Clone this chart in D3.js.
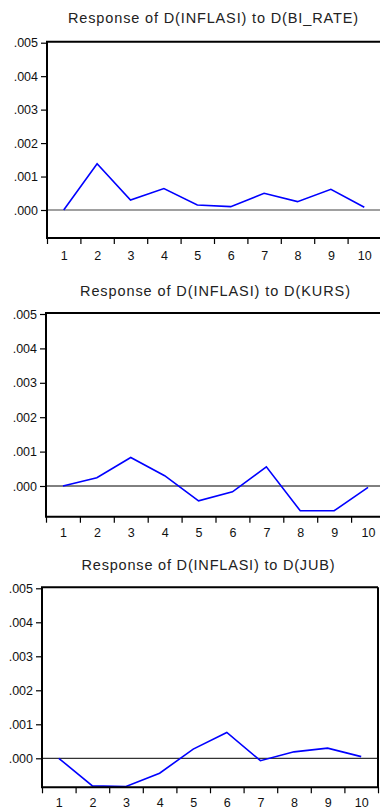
<!DOCTYPE html>
<html>
<head>
<meta charset="utf-8">
<script src="https://cdn.jsdelivr.net/npm/d3@7"></script>
<style>
  html, body { margin: 0; padding: 0; background: #fff; overflow: hidden; }
  svg { display: block; }
  text { font-family: Arial, "Liberation Sans", sans-serif; fill: #111; }
</style>
</head>
<body>
<div id="chart"></div>
<script>
// Impulse responses of D(INFLASI), periods 1..10
const periods = [1, 2, 3, 4, 5, 6, 7, 8, 9, 10];
const yTicks = [0, 0.001, 0.002, 0.003, 0.004, 0.005];
const titles = [
    "Response of D(INFLASI) to D(BI_RATE)",
    "Response of D(INFLASI) to D(KURS)",
    "Response of D(INFLASI) to D(JUB)"
];
const respBiRate = [0.0, 0.00138, 0.0003, 0.00064, 0.00015, 0.0001, 0.0005, 0.00025, 0.00062, 0.00008];
const respKurs = [0.0, 0.00024, 0.00083, 0.0003, -0.00043, -0.00017, 0.00056, -0.00072, -0.00072, -0.00004];
const respJub = [0.0, -0.00081, -0.00083, -0.00044, 0.00027, 0.00076, -0.00007, 0.00019, 0.0003, 0.00005];

const width = 380, height = 810;

// panel geometry (pixels)
const panels = [
    { values: respBiRate, title: titles[0], left: 47, right: 381, top: 42.7, zero: 210, bottom: 238,
      titleY: 23, titleX: 213, titleW: 290, zeroColor: "#808080", zeroW: 1.6, rightBorder: false, labelPad: 13 },
    { values: respKurs, title: titles[1], left: 46, right: 385, top: 314, zero: 486, bottom: 516.7,
      titleY: 296, titleX: 215, titleW: 270, zeroColor: "#000", zeroW: 1, rightBorder: false, labelPad: 11.5 },
    { values: respJub, title: titles[2], left: 42, right: 378, top: 588.3, zero: 758.3, bottom: 787.3,
      titleY: 570, titleX: 208, titleW: 253, zeroColor: "#000", zeroW: 1, rightBorder: true, labelPad: 10.5 }
];

const svg = d3.select("#chart").append("svg")
    .attr("width", width)
    .attr("height", height);

panels.forEach(p => {
    const g = svg.append("g");

    const x = d3.scaleLinear()
        .domain([0.5, 10.5])
        .range([p.left, p.right]);
    const y = d3.scaleLinear()
        .domain([0, 0.005])
        .range([p.zero, p.top]);

    // title
    g.append("text")
        .attr("x", p.titleX)
        .attr("y", p.titleY)
        .attr("text-anchor", "middle")
        .attr("textLength", p.titleW)
        .attr("lengthAdjust", "spacing")
        .style("font-size", "14.5px")
        .style("fill", "#222")
        .text(p.title);

    // zero line
    g.append("line")
        .attr("x1", p.left).attr("x2", p.right)
        .attr("y1", y(0)).attr("y2", y(0))
        .attr("stroke", p.zeroColor)
        .attr("stroke-width", p.zeroW);

    // response line
    const line = d3.line()
        .x((d, i) => x(periods[i]))
        .y(d => y(d));
    g.append("path")
        .datum(p.values)
        .attr("d", line)
        .attr("fill", "none")
        .attr("stroke", "#0000ff")
        .attr("stroke-width", 1.6);

    // y axis
    const yAxis = d3.axisLeft(y)
        .tickValues(yTicks)
        .tickSize(6)
        .tickPadding(3)
        .tickFormat(d => d3.format(".3f")(d).replace(/^0/, ""));
    const yg = g.append("g")
        .attr("transform", `translate(${p.left},0)`)
        .call(yAxis);
    yg.select(".domain").remove();
    yg.selectAll(".tick line").attr("stroke", "#000").attr("stroke-width", 1.2);
    yg.selectAll(".tick text").style("font-size", "12.5px").attr("fill", "#222");

    // x axis: tick marks at period boundaries, labels at period centres
    const bounds = d3.range(0.5, 11, 1);
    const xTicks = d3.axisBottom(x)
        .tickValues(bounds)
        .tickSize(6)
        .tickFormat("");
    const xg = g.append("g")
        .attr("transform", `translate(0,${p.bottom})`)
        .call(xTicks);
    xg.select(".domain").remove();
    xg.selectAll(".tick line").attr("stroke", "#000").attr("stroke-width", 1.2);

    const xLabels = d3.axisBottom(x)
        .tickValues(periods)
        .tickSize(0)
        .tickPadding(p.labelPad)
        .tickFormat(d3.format("d"));
    const xl = g.append("g")
        .attr("transform", `translate(0,${p.bottom})`)
        .call(xLabels);
    xl.select(".domain").remove();
    xl.selectAll(".tick text").style("font-size", "12.5px").attr("fill", "#222");

    // frame
    const frame = g.append("path")
        .attr("fill", "none")
        .attr("stroke", "#000")
        .attr("stroke-width", 2);
    let d = `M${p.right},${p.top - 1}H${p.left}V${p.bottom}H${p.right}`;
    if (p.rightBorder) d += `V${p.top - 1}`;
    frame.attr("d", d);
});
</script>
</body>
</html>
